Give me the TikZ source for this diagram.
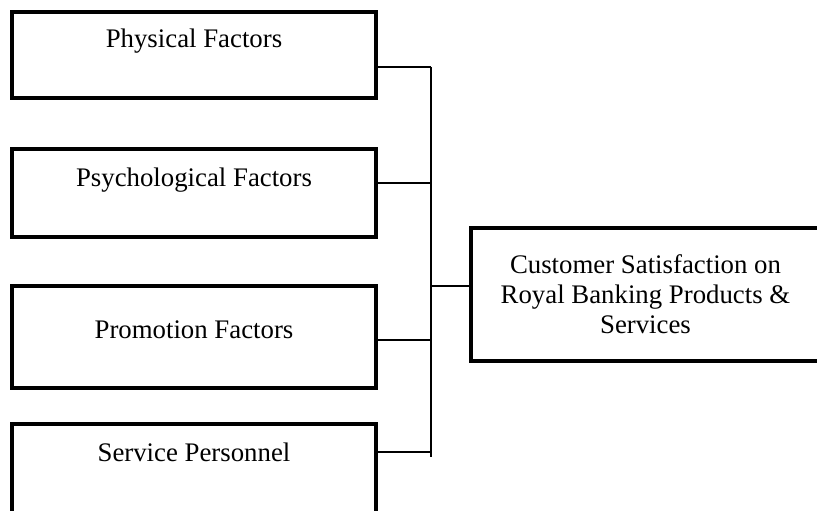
\documentclass[tikz,border=0pt]{standalone}
\usepackage{fontspec}
\setmainfont{Liberation Serif}
\usepackage{tikz}
\usetikzlibrary{calc}

\tikzset{
  factor/.style 2 args={draw, line width=4.8pt, outer sep=0pt, anchor=north west,
    minimum width=364pt, inner ysep=0pt, text height=#1, text depth=#2,
    font=\fontsize{26.8}{30}\selectfont},
  wire/.style={line width=1.3pt}
}

\begin{document}
\begin{tikzpicture}[x=1pt,y=-1pt]
\useasboundingbox (0,0) rectangle (817,511);
\clip (0,0) rectangle (817,511);
% factor boxes on the left
\node[factor={36pt}{50pt}] (phys) at (12,12) {Physical Factors};
\node[factor={37pt}{51pt}] (psych) at (12,149) {Psychological Factors};
\node[factor={52pt}{50pt}] (promo) at (12,286) {Promotion Factors};
\node[factor={37pt}{69pt}] (staff) at (12,424) {Service Personnel};
% outcome box, runs off the right edge
\node[draw, line width=4.8pt, outer sep=0pt, anchor=north west, minimum width=349pt,
  minimum height=133pt, align=center, inner xsep=0pt,
  font=\fontsize{26.8}{30}\selectfont] (sat) at (471,228)
  {Customer Satisfaction on\\Royal Banking Products \&\\Services};
% junction points on the bus
\coordinate (j1) at (431,67);
\coordinate (j2) at (431,183);
\coordinate (j3) at (431,340);
\coordinate (j4) at (431,452);
\coordinate (jend) at (431,457);
\coordinate (jsat) at (431,286);
\draw[wire] (phys.east |- j1) -- (j1);
\draw[wire] (psych.east |- j2) -- (j2);
\draw[wire] (promo.east |- j3) -- (j3);
\draw[wire] (staff.east |- j4) -- (j4);
\draw[wire] (j1) -- (jend);
\draw[wire] (jsat) -- (sat.west |- jsat);
\end{tikzpicture}
\end{document}
